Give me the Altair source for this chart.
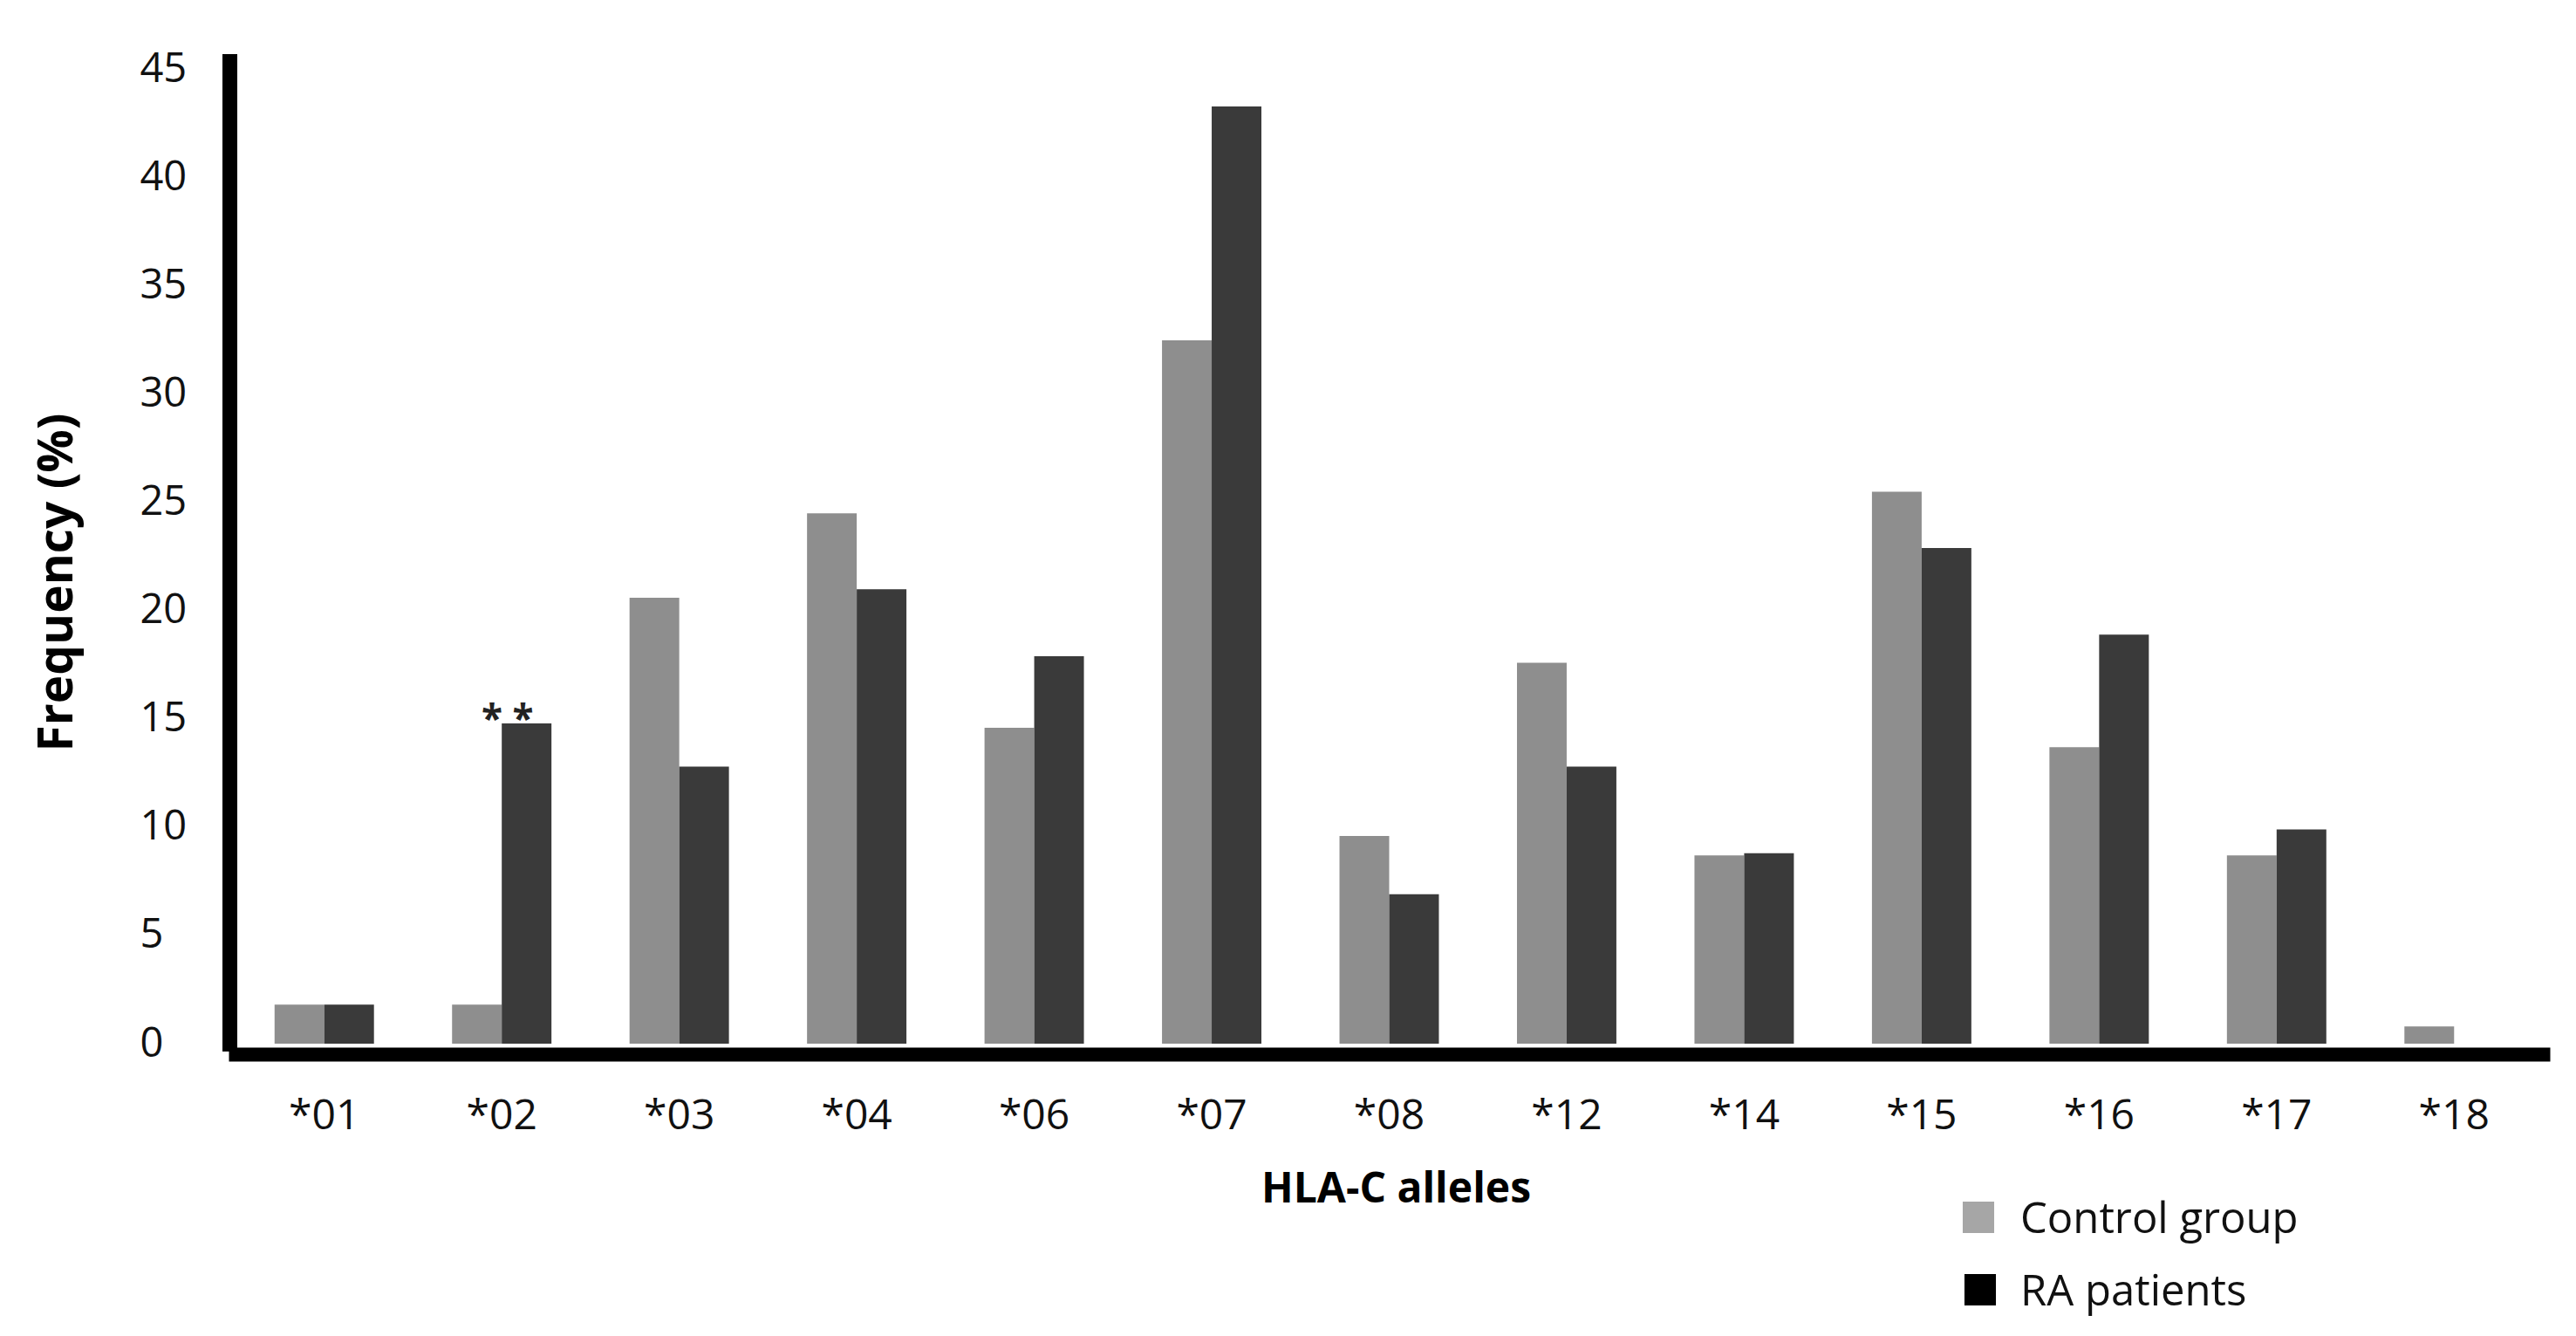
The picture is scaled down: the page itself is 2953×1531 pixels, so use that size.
import altair as alt
import pandas as pd

alleles = ["*01", "*02", "*03", "*04", "*06", "*07", "*08", "*12", "*14", "*15", "*16", "*17", "*18"]
control = [1.8, 1.8, 20.6, 24.5, 14.6, 32.5, 9.6, 17.6, 8.7, 25.5, 13.7, 8.7, 0.8]
ra = [1.8, 14.8, 12.8, 21.0, 17.9, 43.3, 6.9, 12.8, 8.8, 22.9, 18.9, 9.9, 0.0]
groups = ["Control group", "RA patients"]
y_ticks = [0, 5, 10, 15, 20, 25, 30, 35, 40, 45]
star_allele = "*02"
star_text = "* *"

rows = []
for a, c, r in zip(alleles, control, ra):
    rows.append({"allele": a, "group": groups[0], "value": c})
    rows.append({"allele": a, "group": groups[1], "value": r})
df = pd.DataFrame(rows)
star_df = df[(df.allele == star_allele) & (df.group == groups[1])].assign(label=star_text)

FONT = "Open Sans"

x_enc = alt.X("allele:N", sort=alleles,
              scale=alt.Scale(paddingInner=0.44, paddingOuter=0.22),
              axis=alt.Axis(title="HLA-C alleles", labelAngle=0, ticks=False, tickSize=0,
                            domainColor="#000000", domainWidth=16, domainCap="square", offset=12,
                            labelFont=FONT, labelFontSize=48, labelColor="#111111",
                            labelBaseline="alphabetic", labelPadding=85,
                            titleFont=FONT, titleFontSize=48, titleFontWeight="bold",
                            titleColor="#000000", titleX=1330, titleY=169,
                            titleBaseline="alphabetic", titleAlign="center"))
xo_enc = alt.XOffset("group:N", sort=groups, scale=alt.Scale(paddingInner=0, paddingOuter=0))
y_enc = alt.Y("value:Q", scale=alt.Scale(domain=[0, 45.4], nice=False, zero=True),
              axis=alt.Axis(values=y_ticks, title="Frequency (%)", grid=False, ticks=False, tickSize=0,
                            domainColor="#000000", domainWidth=17, domainCap="square", offset=7,
                            labelAlign="left", labelBaseline="middle", labelPadding=103,
                            labelFont=FONT, labelFontSize=47, labelColor="#111111",
                            titleFont=FONT, titleFontSize=55, titleFontWeight="bold",
                            titleColor="#000000", titleAngle=270, titleX=-198, titleY=597,
                            titleBaseline="middle", titleAlign="center"))

bars = alt.Chart(df).mark_bar(stroke=None).encode(
    x=x_enc, xOffset=xo_enc, y=y_enc,
    color=alt.Color("group:N", sort=groups,
                    scale=alt.Scale(domain=groups, range=["#8e8e8e", "#3a3a3a"]), legend=None),
)

stars = alt.Chart(star_df).mark_text(fontSize=44, font=FONT, fontWeight="bold", color="#222222",
                                     baseline="alphabetic", dx=-22, dy=10).encode(
    x=alt.X("allele:N", sort=alleles), xOffset=alt.XOffset("group:N", sort=groups),
    y="value:Q", text="label:N",
)

# legend (drawn as its own small layers, placed below the plot at the lower right)
legend_swatch_colors = ["#a6a6a6", "#000000"]
legend_layout = [  # (swatch x, swatch y, label x, label baseline y) relative to plot origin
    (1998, 1325, 2046, 1343),
    (2000, 1408, 2046, 1426),
]
legend_layers = []
for name, col, (sx, sy, lx, ly) in zip(groups, legend_swatch_colors, legend_layout):
    ldf = pd.DataFrame({"label": [name]})
    legend_layers.append(
        alt.Chart(ldf).mark_square(size=1300, color=col, opacity=1).encode(
            x=alt.value(sx), y=alt.value(sy))
    )
    legend_layers.append(
        alt.Chart(ldf).mark_text(font=FONT, fontSize=49, color="#111111", align="left",
                                 baseline="alphabetic").encode(
            x=alt.value(lx), y=alt.value(ly), text="label:N")
    )

chart = alt.layer(bars, stars, *legend_layers).properties(
    width=2645, height=1126,
    autosize=alt.AutoSizeParams(type="none"),
    padding={"left": 262, "top": 62, "right": 25, "bottom": 320},
    background="white",
).configure_view(stroke=None)

chart.save("out.html", embed_options={"renderer": "svg", "actions": False})
